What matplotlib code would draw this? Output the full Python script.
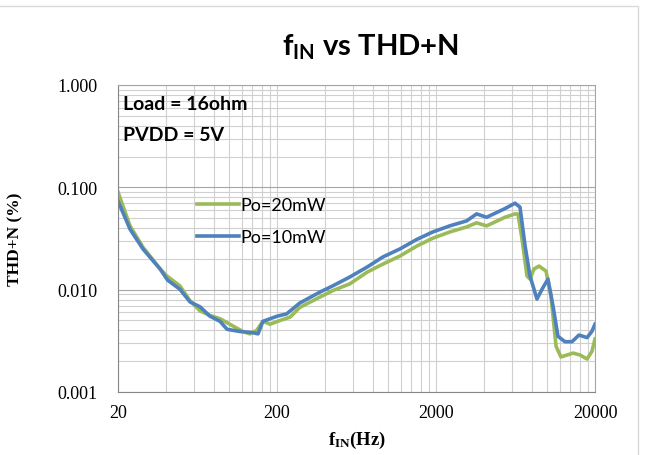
import matplotlib
matplotlib.use('Agg')
import matplotlib.pyplot as plt
import matplotlib.ticker as mticker
from matplotlib.patches import Rectangle
import numpy as np

# data
freq_20mw = [20, 23.8, 28.7, 36.8, 40.6, 49, 56.7, 65.6, 75.8, 87.7, 106, 122, 135, 149, 163,
             181, 209, 242, 278, 374, 449, 574, 736, 928, 1186, 1516, 1906, 2437, 3117, 3600,
             4160, 5432, 6281, 6560, 6950, 7470, 7800, 8260, 8890, 9840, 10570, 11380, 12220,
             14550, 16100, 17820, 19140, 20000]
thd_20mw = [0.090, 0.042, 0.026, 0.0160, 0.0136, 0.0109, 0.0078, 0.0062, 0.0056, 0.0052, 0.0044,
            0.0039, 0.0037, 0.0040, 0.0049, 0.0046, 0.0050, 0.0054, 0.0067, 0.0085, 0.0098,
            0.0114, 0.0148, 0.0178, 0.0213, 0.0267, 0.0318, 0.0366, 0.041, 0.045, 0.042, 0.051,
            0.055, 0.0548, 0.0313, 0.0136, 0.0127, 0.0159, 0.0170, 0.0152, 0.0087, 0.0028,
            0.0022, 0.0024, 0.0023, 0.0021, 0.0025, 0.0033]

freq_10mw = [20, 23.8, 28.7, 36.8, 41, 49, 56.7, 65.6, 75.8, 87.7, 97, 117, 141, 152, 163, 181,
             200, 230, 278, 374, 449, 574, 736, 928, 1186, 1516, 1906, 2437, 3117, 3600, 4160,
             5432, 6281, 6750, 7260, 7800, 8630, 9290, 10120, 10890, 11700, 12950, 14330,
             15860, 17820, 19100, 20000]
thd_10mw = [0.0735, 0.039, 0.025, 0.0159, 0.0124, 0.0101, 0.0076, 0.0068, 0.0055, 0.0049, 0.0041,
            0.0039, 0.0038, 0.0037, 0.0049, 0.0052, 0.0055, 0.0058, 0.0074, 0.0095, 0.0109,
            0.0133, 0.0166, 0.0209, 0.025, 0.031, 0.0366, 0.042, 0.047, 0.055, 0.051, 0.062,
            0.070, 0.064, 0.027, 0.0136, 0.0081, 0.0101, 0.0127, 0.0069, 0.0035, 0.0031,
            0.0031, 0.0036, 0.0034, 0.0039, 0.0046]

x_ticks = [20, 200, 2000, 20000]
y_ticks = [0.001, 0.01, 0.1, 1.0]
y_ticklabels = ['0.001', '0.010', '0.100', '1.000']

plt.rcParams['mathtext.fontset'] = 'custom'
plt.rcParams['mathtext.sf'] = 'Lato:bold'
plt.rcParams['mathtext.bf'] = 'Liberation Serif:bold'

fig = plt.figure(figsize=(6.54, 4.56), dpi=100)
ax = fig.add_axes([118/654, 1 - 393/456, 477/654, 307/456])

# outer chart border
fig.patches.append(Rectangle((-0.01, -0.01), 638/654 + 0.01, 1 - 7/456 + 0.01,
                             transform=fig.transFigure, fill=False,
                             edgecolor='#D9D9D9', linewidth=1.0))

ax.plot(freq_20mw, thd_20mw, color='#9BBB59', linewidth=2.6, label='Po=20mW',
        solid_joinstyle='round')
ax.plot(freq_10mw, thd_10mw, color='#4F81BD', linewidth=2.6, label='Po=10mW',
        solid_joinstyle='round')

ax.set_xscale('log')
ax.set_yscale('log')
ax.set_xlim(20, 20000)
ax.set_ylim(0.001, 1.0)

ax.set_xticks(x_ticks)
ax.set_xticklabels([str(v) for v in x_ticks])
minor_x = [20 * 10**d * k for d in range(3) for k in range(2, 10)]
ax.xaxis.set_minor_locator(mticker.FixedLocator(minor_x))
ax.xaxis.set_minor_formatter(mticker.NullFormatter())
ax.set_yticks(y_ticks)
ax.set_yticklabels(y_ticklabels)
ax.yaxis.set_minor_locator(mticker.LogLocator(base=10, subs=np.arange(2, 10)))
ax.yaxis.set_minor_formatter(mticker.NullFormatter())

ax.tick_params(which='both', length=0)
ax.tick_params(axis='y', pad=15)
ax.tick_params(axis='x', pad=9)
for lab in ax.get_xticklabels() + ax.get_yticklabels():
    lab.set_fontfamily('Liberation Serif')
    lab.set_fontsize(13)

ax.grid(which='major', axis='y', color='#A6A6A6', linewidth=0.8)
ax.grid(which='minor', axis='y', color='#D0D0D0', linewidth=0.8)
ax.grid(which='both', axis='x', color='#D0D0D0', linewidth=0.8)
ax.set_axisbelow(True)
for s in ax.spines.values():
    s.set_color('#A6A6A6')
    s.set_linewidth(0.8)
ax.spines['left'].set_color('#868686')
ax.spines['bottom'].set_color('#868686')

ax.set_ylabel('THD+N (%)', fontfamily='Liberation Serif', fontweight='bold', fontsize=12.5)
ax.yaxis.set_label_coords(-0.198, 0.50)
ax.set_xlabel(r'$\mathbf{f_{IN}}$(Hz)', fontfamily='Liberation Serif', fontweight='bold',
              fontsize=13.5, labelpad=5)

fig.text(370/654, 1 - 47/456, r'$\mathsf{f_{IN}}$ vs THD+N', fontfamily='Lato',
         fontweight='bold', fontsize=21, ha='center', va='center')

ax.text(0.01, 0.94, 'Load = 16ohm', transform=ax.transAxes, fontfamily='Lato',
        fontweight='bold', fontsize=14, va='center', ha='left')
ax.text(0.01, 0.84, 'PVDD = 5V', transform=ax.transAxes, fontfamily='Lato',
        fontweight='bold', fontsize=14, va='center', ha='left')

leg = ax.legend(loc='upper left', bbox_to_anchor=(0.166, 0.635), frameon=False,
                borderpad=0, borderaxespad=0, handlelength=2.3, handletextpad=0.1,
                labelspacing=0.9, prop={'family': 'Lato', 'size': 13})

fig.savefig('out.png', dpi=100)
